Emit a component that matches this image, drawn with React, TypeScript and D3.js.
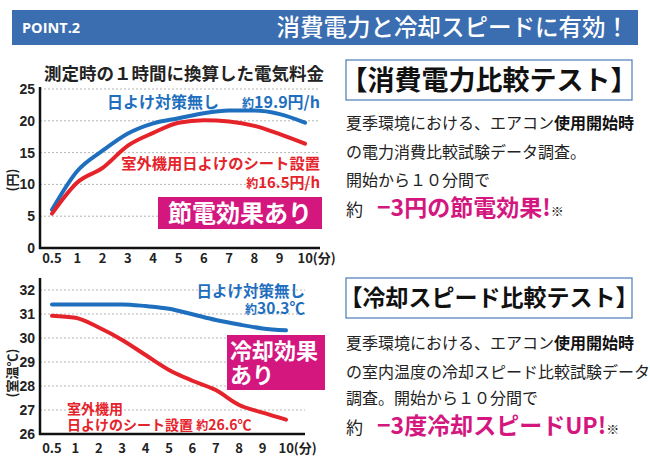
import React from "react";
import * as d3 from "d3";

const categories = ["0.5", "1", "2", "3", "4", "5", "6", "7", "8", "9", "10"];
const costNoShade = [6.0, 12.1, 15.3, 18.0, 19.6, 20.4, 21.2, 21.6, 21.6, 21.05, 19.7];
const costShade = [5.4, 10.3, 12.6, 16.1, 18.1, 19.7, 20.1, 19.9, 19.2, 17.9, 16.4];
const costTicks = [0, 5, 10, 15, 20, 25];
const tempNoShade = [31.4, 31.4, 31.4, 31.4, 31.33, 31.22, 30.99, 30.75, 30.56, 30.4, 30.32];
const tempShade = [30.93, 30.84, 30.44, 29.92, 29.29, 28.67, 28.22, 27.83, 27.21, 26.89, 26.6];
const tempTicks = [26, 27, 28, 29, 30, 31, 32];

const BLUE = "#1f6fbf";
const RED = "#e5232b";
const MAGENTA = "#d4177f";
const JP = "'Noto Sans CJK JP', 'Noto Sans', sans-serif";

function Chart(props: {
  xRange: [number, number];
  yDomain: [number, number];
  yRange: [number, number];
  ticks: number[];
  series: { values: number[]; color: string }[];
  axisLeft: number;
  axisTop: number;
  gridRight: number;
  labelY: number;
}) {
  const { xRange, yDomain, yRange, ticks, series, axisLeft, axisTop, gridRight, labelY } = props;
  const x = d3.scalePoint<string>().domain(categories).range(xRange);
  const y = d3.scaleLinear().domain(yDomain).range(yRange);
  const line = d3
    .line<number>()
    .x((_, i) => x(categories[i]) as number)
    .y((d) => y(d))
    .curve(d3.curveMonotoneX);
  const bottom = y(yDomain[0]);
  return (
    <g>
      {ticks.slice(1).map((t) => (
        <line key={"g" + t} x1={axisLeft} x2={gridRight} y1={y(t)} y2={y(t)} stroke="#b5b5b5" strokeWidth={1} strokeDasharray="2,2" />
      ))}
      <line x1={axisLeft} x2={axisLeft} y1={axisTop} y2={bottom + 1} stroke="#111" strokeWidth={2.5} />
      <line x1={axisLeft - 1} x2={gridRight} y1={bottom} y2={bottom} stroke="#111" strokeWidth={2.5} />
      {ticks.map((t) => (
        <text key={"t" + t} x={axisLeft - 5} y={y(t) + 5} textAnchor="end" fontSize={14} fontWeight={700} fill="#222" fontFamily="Arial, 'Liberation Sans', sans-serif">
          {t}
        </text>
      ))}
      {categories.map((c) => (
        <text key={"c" + c} x={(x(c) as number) - (c === "10" ? 7.5 : 0)} y={labelY} textAnchor={c === "10" ? "start" : "middle"} fontSize={13} fontWeight={700} fill="#222" fontFamily={JP}>
          {c === "10" ? "10(分)" : c}
        </text>
      ))}
      {series.map((s, i) => (
        <path key={"s" + i} d={line(s.values) || ""} fill="none" stroke={s.color} strokeWidth={4} strokeLinecap="round" strokeLinejoin="round" />
      ))}
    </g>
  );
}

export default function App() {
  return (
    <svg width={650} height={459} style={{ position: "absolute", left: 0, top: 0, background: "#fff" }} fontFamily={JP}>
      <rect x={0} y={0} width={650} height={459} fill="#fff" />
      {/* header */}
      <rect x={12} y={10} width={626} height={35} fill="#3b6eb0" />
      <text x={22} y={33} fill="#fff" fontSize={14.5} fontWeight={700} fontFamily="'Open Sans', Arial, sans-serif">POINT.2</text>
      <text x={629} y={36} fill="#fff" fontSize={23.5} fontWeight={500} textAnchor="end">消費電力と冷却スピードに有効！</text>

      {/* top chart */}
      <text x={184} y={80} textAnchor="middle" fontSize={17.5} fontWeight={700} fill="#222">測定時の１時間に換算した電気料金</text>
      <Chart
        xRange={[52, 305]}
        yDomain={[0, 25]}
        yRange={[248, 89]}
        ticks={costTicks}
        series={[
          { values: costNoShade, color: BLUE },
          { values: costShade, color: RED },
        ]}
        axisLeft={40}
        axisTop={87}
        gridRight={320}
        labelY={263}
      />
      <text transform="translate(17,180) rotate(-90)" textAnchor="middle" fontSize={13} fontWeight={700} fill="#222">(円)</text>
      <text x={107} y={108} fontSize={16} fontWeight={700} fill={BLUE}>日よけ対策無し</text>
      <text x={320} y={108} textAnchor="end" fontSize={16} fontWeight={700} fill={BLUE}>
        <tspan fontSize={12}>約</tspan>19.9円/h
      </text>
      <text x={320} y={169} textAnchor="end" fontSize={15.3} fontWeight={700} fill={RED}>室外機用日よけのシート設置</text>
      <text x={320} y={188} textAnchor="end" fontSize={15} fontWeight={700} fill={RED}>
        <tspan fontSize={12}>約</tspan>16.5円/h
      </text>
      <rect x={158} y={197} width={164} height={32} fill={MAGENTA} />
      <text x={240} y={222} textAnchor="middle" fontSize={24} fontWeight={700} fill="#fff">節電効果あり</text>

      {/* bottom chart */}
      <Chart
        xRange={[52, 286]}
        yDomain={[26, 32]}
        yRange={[434, 290]}
        ticks={tempTicks}
        series={[
          { values: tempNoShade, color: BLUE },
          { values: tempShade, color: RED },
        ]}
        axisLeft={40}
        axisTop={278}
        gridRight={305}
        labelY={453}
      />
      <text transform="translate(17,373) rotate(-90)" textAnchor="middle" fontSize={13} fontWeight={700} fill="#222">(室温℃)</text>
      <text x={305} y={297} textAnchor="end" fontSize={15.5} fontWeight={700} fill={BLUE}>日よけ対策無し</text>
      <text x={305} y={314} textAnchor="end" fontSize={15.5} fontWeight={700} fill={BLUE}>
        <tspan fontSize={12}>約</tspan>30.3℃
      </text>
      <rect x={227} y={335} width={98} height={55} fill={MAGENTA} />
      <text x={230} y={359} fontSize={22} fontWeight={700} fill="#fff">冷却効果</text>
      <text x={230} y={383} fontSize={22} fontWeight={700} fill="#fff">あり</text>
      <text x={67} y={414} fontSize={14} fontWeight={700} fill={RED}>室外機用</text>
      <text x={67} y={429.5} fontSize={14} fontWeight={700} fill={RED}>
        日よけのシート設置 <tspan fontSize={12}>約</tspan>26.6℃
      </text>

      {/* right top */}
      <rect x={346} y={60} width={286} height={40} fill="#fff" stroke="#4a7ab8" strokeWidth={1.2} />
      <text x={489} y={90} textAnchor="middle" fontSize={27} fontWeight={700} fill="#111">【消費電力比較テスト】</text>
      <text x={346} y={129} fontSize={16} fill="#222">夏季環境における、エアコン<tspan fontWeight={700} fill="#111">使用開始時</tspan></text>
      <text x={346} y={158} fontSize={16} fill="#222">の電力消費比較試験データ調査。</text>
      <text x={346} y={186} fontSize={16} fill="#222">開始から１０分間で</text>
      <text x={346} y={216} fontSize={17} fill="#222">
        約<tspan dx={14} fontSize={23} fontWeight={700} fill={MAGENTA}>−3円の節電効果!</tspan>
        <tspan fontSize={13} fill="#222">※</tspan>
      </text>

      {/* right bottom */}
      <rect x={346} y={278} width={286} height={40} fill="#fff" stroke="#4a7ab8" strokeWidth={1.2} />
      <text x={489} y={306} textAnchor="middle" fontSize={23} fontWeight={700} fill="#111">【冷却スピード比較テスト】</text>
      <text x={346} y={349} fontSize={16} fill="#222">夏季環境における、エアコン<tspan fontWeight={700} fill="#111">使用開始時</tspan></text>
      <text x={346} y={378} fontSize={16} fill="#222">の室内温度の冷却スピード比較試験データ</text>
      <text x={346} y={404} fontSize={16} fill="#222">調査。開始から１０分間で</text>
      <text x={346} y={434} fontSize={17} fill="#222">
        約<tspan dx={14} fontSize={23} fontWeight={700} fill={MAGENTA}>−3度冷却スピードUP!</tspan>
        <tspan fontSize={13} fill="#222">※</tspan>
      </text>
    </svg>
  );
}
